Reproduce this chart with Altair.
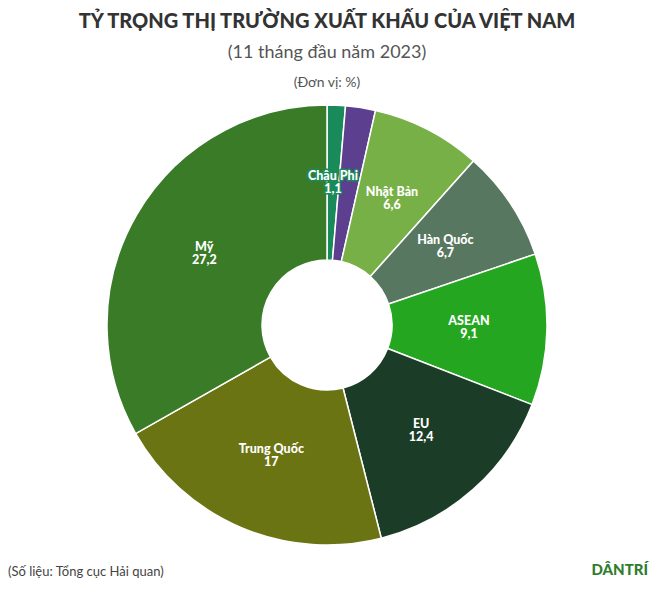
import altair as alt
import pandas as pd

# ---- data ----
categories = ["Châu Phi", "Khác", "Nhật Bản", "Hàn Quốc", "ASEAN", "EU", "Trung Quốc", "Mỹ"]
values = [1.1, 1.8, 6.6, 6.7, 9.1, 12.4, 17, 27.2]
label_names = ["Châu Phi", "", "Nhật Bản", "Hàn Quốc", "ASEAN", "EU", "Trung Quốc", "Mỹ"]
value_labels = ["1,1", "", "6,6", "6,7", "9,1", "12,4", "17", "27,2"]
colors = ["#198a5a", "#5c3f8f", "#76b046", "#587760", "#25a620", "#1b3d28", "#6b7412", "#3a7b28"]

title_text = ["TỶ TRỌNG THỊ TRƯỜNG XUẤT KHẨU CỦA VIỆT NAM"]
subtitle_text = ["(11 tháng đầu năm 2023)"]
unit_text = ["(Đơn vị: %)"]
source_text = ["(Số liệu: Tổng cục Hải quan)"]
logo_text = ["DÂNTRÍ"]

df = pd.DataFrame({
    "cat": categories,
    "value": values,
    "name": label_names,
    "vlabel": value_labels,
    "idx": list(range(len(categories))),
})

W, H = 642, 575
CX, CY = 319, 317
scale = alt.Scale(domain=categories, range=colors)

base = alt.Chart(df).encode(
    theta=alt.Theta("value:Q", stack=True),
    order=alt.Order("idx:Q"),
    x=alt.value(CX),
    y=alt.value(CY),
)

arcs = base.mark_arc(outerRadius=220, innerRadius=65, stroke="white", strokeWidth=1.5).encode(
    color=alt.Color("cat:N", scale=scale, legend=None)
)

LFONT = "Lato"
LR = 142
LFS = 12.5
LW = 900
halo_name = base.mark_text(radius=LR, dy=-7, font=LFONT, fontSize=LFS, fontWeight=LW,
                           strokeWidth=3, strokeJoin="round").encode(
    text="name:N", color=alt.Color("cat:N", scale=scale, legend=None),
    stroke=alt.Stroke("cat:N", scale=scale, legend=None))
halo_val = base.mark_text(radius=LR, dy=6, font=LFONT, fontSize=LFS, fontWeight=LW,
                          strokeWidth=3, strokeJoin="round").encode(
    text="vlabel:N", color=alt.Color("cat:N", scale=scale, legend=None),
    stroke=alt.Stroke("cat:N", scale=scale, legend=None))
lab_name = base.mark_text(radius=LR, dy=-7, font=LFONT, fontSize=LFS, fontWeight=LW,
                          color="white").encode(text="name:N")
lab_val = base.mark_text(radius=LR, dy=6, font=LFONT, fontSize=LFS, fontWeight=LW,
                         color="white").encode(text="vlabel:N")


def text_layer(lst, x, y, align="center", **kw):
    d = pd.DataFrame({"t": lst})
    return alt.Chart(d).mark_text(align=align, baseline="middle", **kw).encode(
        text="t:N", x=alt.value(x), y=alt.value(y))


title = text_layer(title_text, 319, 14, font="Lato", fontSize=20, fontWeight=900, color="#333333")
subtitle = text_layer(subtitle_text, 319, 45, font="Lato", fontSize=18, color="#555555")
unit = text_layer(unit_text, 319, 75, font="Lato", fontSize=14, color="#555555")
source = text_layer(source_text, 0, 564, align="left", font="Lato", fontSize=13, color="#444444")
logo = text_layer(logo_text, 640, 562, align="right", font="Lato", fontSize=15,
                  fontWeight=900, color="#2e7d2e")

chart = alt.layer(arcs, halo_name, halo_val, lab_name, lab_val, title, subtitle, unit, source, logo).properties(
    width=W, height=H, autosize=alt.AutoSizeParams(type="none"), padding=0
).configure_view(stroke=None)

chart.save("out.html", embed_options={"renderer": "svg", "actions": False})
